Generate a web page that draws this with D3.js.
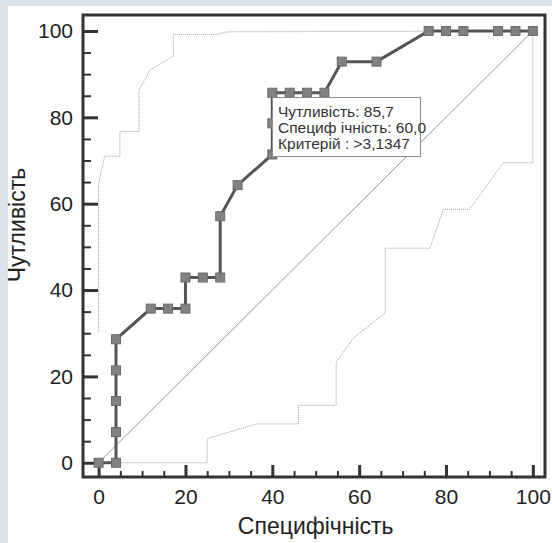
<!DOCTYPE html>
<html>
<head>
<meta charset="utf-8">
<script src="https://cdn.jsdelivr.net/npm/d3@7"></script>
<style>
  html, body { margin: 0; padding: 0; background: #fff; }
  svg { display: block; font-family: "Liberation Sans", Arial, sans-serif; }
</style>
</head>
<body>
<div id="chart"></div>
<script>
// ROC curve points (100-specificity, sensitivity)
var rocX = [0, 4, 4, 4, 4, 4, 12, 16, 20, 20, 24, 28, 28, 32, 40, 40, 40, 44, 48, 52, 56, 64, 76, 80, 84, 92, 96, 100];
var rocY = [0, 0, 7.1, 14.3, 21.4, 28.6, 35.7, 35.7, 35.7, 42.9, 42.9, 42.9, 57.1, 64.3, 71.4, 78.6, 85.7, 85.7, 85.7, 85.7, 92.9, 92.9, 100, 100, 100, 100, 100, 100];

// confidence bounds (dotted)
var upperX = [0, 0, 1.4, 4.9, 4.9, 9.3, 9.3, 11.8, 17.2, 17.2, 27.2, 29.5, 100];
var upperY = [30.3, 64.7, 71, 71, 76.7, 76.7, 86.3, 90.9, 94.2, 99.2, 99.2, 99.8, 100];
var lowerX = [0, 25, 25, 36.4, 46, 46, 54.7, 54.7, 58.8, 66, 66, 76.3, 79.4, 85.4, 93.2, 100, 100];
var lowerY = [0, 0, 5.6, 9, 9, 13.3, 13.3, 23.3, 29, 34.7, 49.7, 49.7, 58.7, 58.7, 69.5, 69.5, 100];

var majorTicks = [0, 20, 40, 60, 80, 100];
var minorTicks = d3.range(0, 101, 5).filter(function (d) { return d % 20 !== 0; });

var tipLines = ['Чутливість: 85,7', 'Специф ічність: 60,0', 'Критерій : >3,1347'];
var xTitle = 'Специфічність';
var yTitle = 'Чутливість';

(function (d3) {
    'use strict';

    var W = 552, H = 543;
    var svg = d3.select('#chart').append('svg')
        .attr('width', W).attr('height', H);

    // page background
    svg.append('rect').attr('width', W).attr('height', H).attr('fill', '#dae4ea');
    svg.append('rect').attr('x', 8).attr('y', 6).attr('width', W - 8).attr('height', H - 6).attr('fill', '#fff');

    var left = 83, right = 545, top = 15, bottom = 477;
    var x = d3.scaleLinear().domain([-3.6, 102.8]).range([left, right]);
    var y = d3.scaleLinear().domain([-3.3, 103.7]).range([bottom, top]);

    // diagonal reference
    svg.append('line')
        .attr('x1', x(0)).attr('y1', y(0)).attr('x2', x(100)).attr('y2', y(100))
        .attr('stroke', '#8a8a8a').attr('stroke-width', 0.9);

    // confidence bounds
    var line = d3.line().x(function (d) { return x(d[0]); }).y(function (d) { return y(d[1]); });
    [[upperX, upperY], [lowerX, lowerY]].forEach(function (b) {
        svg.append('path')
            .datum(d3.zip(b[0], b[1]))
            .attr('d', line)
            .attr('fill', 'none')
            .attr('stroke', '#9a9a9a')
            .attr('stroke-width', 1)
            .attr('stroke-dasharray', '1,1');
    });

    // axes (ticks inside the frame)
    var gy = svg.append('g').attr('transform', 'translate(' + left + ',0)');
    gy.call(d3.axisLeft(y).tickValues(majorTicks).tickSize(-15).tickPadding(10));
    var gy2 = svg.append('g').attr('transform', 'translate(' + left + ',0)');
    gy2.call(d3.axisLeft(y).tickValues(minorTicks).tickSize(-8).tickFormat(''));

    var gx = svg.append('g').attr('transform', 'translate(0,' + bottom + ')');
    gx.call(d3.axisBottom(x).tickValues(majorTicks).tickSize(-12).tickPadding(12));
    var gx2 = svg.append('g').attr('transform', 'translate(0,' + bottom + ')');
    gx2.call(d3.axisBottom(x).tickValues(minorTicks).tickSize(-6).tickFormat(''));

    [gy, gx].forEach(function (g) {
        g.selectAll('.tick line').attr('stroke', '#333').attr('stroke-width', 3);
        g.selectAll('.tick text').attr('fill', '#222').style('font-size', '21px')
            .style('font-family', '"Liberation Sans", Arial, sans-serif');
    });
    [gy2, gx2].forEach(function (g) {
        g.selectAll('.tick line').attr('stroke', '#333').attr('stroke-width', 2);
    });
    svg.selectAll('.domain').remove();

    // frame
    svg.append('rect')
        .attr('x', left).attr('y', top)
        .attr('width', right - left).attr('height', bottom - top)
        .attr('fill', 'none').attr('stroke', '#333').attr('stroke-width', 3);

    // ROC curve
    var pts = d3.zip(rocX, rocY);
    svg.append('path')
        .datum(pts)
        .attr('d', line)
        .attr('fill', 'none')
        .attr('stroke', '#555')
        .attr('stroke-width', 3);

    var s = 9;
    svg.selectAll('rect.pt').data(pts).enter().append('rect')
        .attr('class', 'pt')
        .attr('x', function (d) { return x(d[0]) - s / 2; })
        .attr('y', function (d) { return y(d[1]) - s / 2; })
        .attr('width', s).attr('height', s)
        .attr('fill', '#828282')
        .attr('stroke', '#6a6a6a')
        .attr('stroke-width', 1);

    // tooltip box
    var tip = svg.append('g');
    tip.append('rect')
        .attr('x', 272.5).attr('y', 97.5).attr('width', 148).attr('height', 59)
        .attr('fill', '#fff').attr('stroke', '#8c8c8c').attr('stroke-width', 1);
    tip.selectAll('text').data(tipLines).enter().append('text')
        .attr('x', 278)
        .attr('y', function (d, i) { return 116.5 + i * 16.3; })
        .attr('fill', '#333')
        .style('font-size', '15.5px')
        .text(function (d) { return d; });

    // axis titles
    svg.append('text')
        .attr('x', (x(0) + x(100)) / 2).attr('y', 534)
        .attr('text-anchor', 'middle')
        .attr('fill', '#222')
        .style('font-size', '23px')
        .text(xTitle);

    svg.append('text')
        .attr('transform', 'translate(25,225) rotate(-90)')
        .attr('text-anchor', 'middle')
        .attr('fill', '#222')
        .style('font-size', '23px')
        .text(yTitle);
}(window.d3));
</script>
</body>
</html>
